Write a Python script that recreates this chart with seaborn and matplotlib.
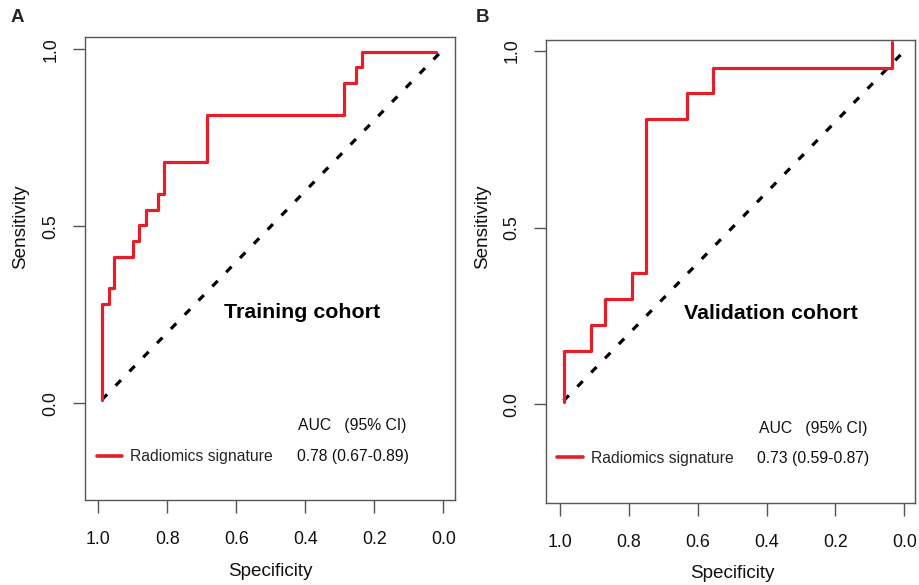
import matplotlib
matplotlib.use("Agg")
import matplotlib.pyplot as plt
import seaborn as sns
import pandas as pd

# ---- data ----
train_spec = [0.99, 0.97, 0.954, 0.90, 0.881, 0.863, 0.826, 0.81, 0.685, 0.288, 0.253, 0.236, 0.021]
train_sens = [0.01, 0.28, 0.325, 0.414, 0.458, 0.503, 0.546, 0.591, 0.681, 0.814, 0.906, 0.949, 0.993]

valid_spec = [0.988, 0.911, 0.871, 0.791, 0.751, 0.632, 0.555, 0.035, 0.035]
valid_sens = [0.007, 0.151, 0.225, 0.298, 0.371, 0.8075, 0.880, 0.953, 1.024]

diag_spec = [0.99, 0.0]
diag_sens = [0.01, 1.0]

ticks = [1.0, 0.8, 0.6, 0.4, 0.2, 0.0]
tick_labels = ["1.0", "0.8", "0.6", "0.4", "0.2", "0.0"]
yticks = [0.0, 0.5, 1.0]
ytick_labels = ["0.0", "0.5", "1.0"]

panels = ["A", "B"]
cohorts = ["Training cohort", "Validation cohort"]
model_name = "Radiomics signature"
auc_text = ["0.78 (0.67-0.89)", "0.73 (0.59-0.87)"]
auc_header = "AUC   (95% CI)"

# ---- style ----
sns.set_style("ticks")
plt.rcParams["font.family"] = ["Liberation Sans", "DejaVu Sans"]

RED = "#E3202A"
BOX = "#555555"

fig = plt.figure(figsize=(9.19, 5.85), dpi=100)
axA = fig.add_axes([85 / 919, 1 - 500 / 585, 370 / 919, 463 / 585])
axB = fig.add_axes([546 / 919, 1 - 503 / 585, 369 / 919, 463 / 585])

datasets = [
    (axA, train_spec, train_sens, (1.0386, -0.034), (-0.273, 1.035)),
    (axB, valid_spec, valid_sens, (1.041, -0.031), (-0.279, 1.031)),
]

# layout info in axes fractions (positions only)
legend_anchor = [(0.0316, 0.0935), (0.0306, 0.0965)]
header_pos = [(0.5757, 0.160), (0.577, 0.161)]
auc_pos = [(0.572, 0.0935), (0.5726, 0.0965)]
cohort_pos = [(0.5857, 0.404), (0.6106, 0.410)]
ylabel_pos = [(-0.175, 0.59), (-0.173, 0.596)]
xlabel_pos = [(0.502, -0.155), (0.505, -0.152)]
panel_pos = [(17, 18), (483, 18)]

for i, (ax, sx, sy, xl, yl) in enumerate(datasets):
    df = pd.DataFrame({"Specificity": sx, "Sensitivity": sy})
    dd = pd.DataFrame({"Specificity": diag_spec, "Sensitivity": diag_sens})
    sns.lineplot(data=dd, x="Specificity", y="Sensitivity", ax=ax, sort=False,
                 estimator=None, color="black", lw=2.3, dashes=False,
                 linestyle=(0, (2.4, 3.8)), zorder=2)
    sns.lineplot(data=df, x="Specificity", y="Sensitivity", ax=ax, sort=False,
                 estimator=None, color=RED, lw=2.3, drawstyle="steps-pre",
                 label=model_name, zorder=3)
    ax.set_xlim(*xl)
    ax.set_ylim(*yl)
    ax.set_xticks(ticks)
    ax.set_xticklabels(tick_labels)
    ax.set_yticks(yticks)
    ax.set_yticklabels(ytick_labels)
    for t in ax.get_yticklabels():
        t.set_rotation(90)
        t.set_va("center")
    ax.tick_params(axis="x", length=9, width=1.0, color=BOX, pad=13, labelsize=12.8, labelcolor="#111111")
    ax.tick_params(axis="y", length=9, width=1.0, color=BOX, pad=9.5, labelsize=12.8, labelcolor="#111111")
    for s in ax.spines.values():
        s.set_visible(True)
        s.set_color(BOX)
        s.set_linewidth(1.0)

    ax.set_xlabel("Specificity", fontsize=13.6, color="#111111")
    ax.set_ylabel("Sensitivity", fontsize=13.6, color="#111111")
    ax.xaxis.set_label_coords(*xlabel_pos[i])
    ax.yaxis.set_label_coords(*ylabel_pos[i])
    ax.xaxis.label.set_va("center")
    ax.yaxis.label.set_va("center")

    leg = ax.legend(loc="center left", bbox_to_anchor=legend_anchor[i], frameon=False,
                    fontsize=11.3, handlelength=1.63, handletextpad=0.5,
                    borderpad=0, borderaxespad=0)
    for h in leg.get_lines():
        h.set_linewidth(2.6)

    ax.text(*header_pos[i], auc_header, transform=ax.transAxes, fontsize=11.3,
            ha="left", va="center", color="#111111")
    ax.text(*auc_pos[i], auc_text[i], transform=ax.transAxes, fontsize=11.3,
            ha="left", va="center", color="#111111")
    ax.text(*cohort_pos[i], cohorts[i], transform=ax.transAxes, fontsize=15.4,
            fontweight="bold", ha="center", va="center", color="black")

    fig.text(panel_pos[i][0] / 919, 1 - panel_pos[i][1] / 585, panels[i],
             fontsize=13.5, fontweight="bold", ha="center", va="center")

fig.savefig("out.png", dpi=100)
